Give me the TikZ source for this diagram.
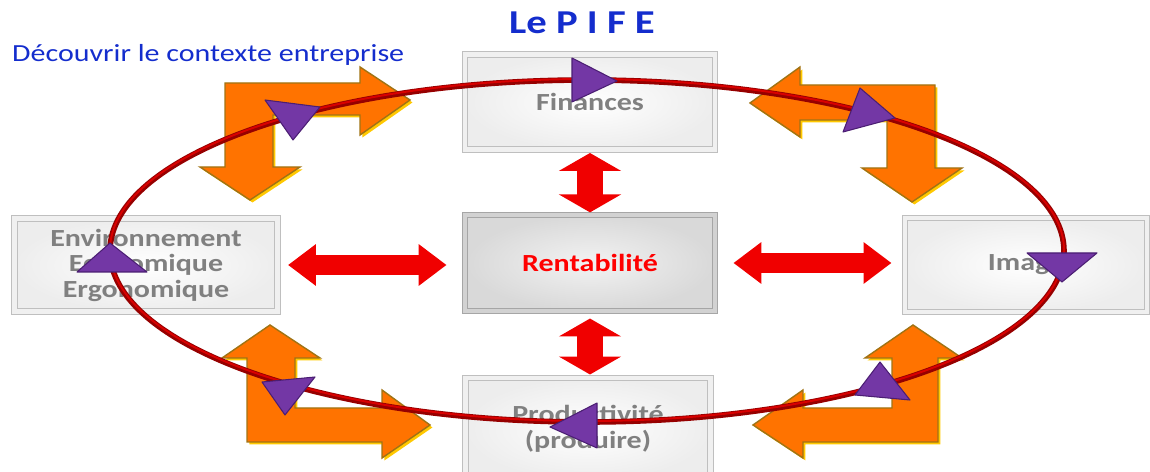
\documentclass[tikz,border=0pt]{standalone}
\usepackage{fontspec}
\setmainfont[FakeStretch=1.22]{Carlito}
\usetikzlibrary{arrows.meta}

\definecolor{bleupife}{RGB}{20,45,205}
\definecolor{textegris}{RGB}{128,128,128}
\definecolor{rougevif}{RGB}{240,0,0}
\definecolor{rougefonce}{RGB}{150,0,0}
\definecolor{orangevif}{RGB}{255,115,0}
\definecolor{orangebord}{RGB}{160,115,20}
\definecolor{orangejaune}{RGB}{255,200,0}
\definecolor{violetpife}{RGB}{115,55,165}
\definecolor{violetfonce}{RGB}{75,30,115}

\begin{document}
\begin{tikzpicture}[x=0.02cm, y=-0.02cm,
bloc/.style = {shape=rectangle, draw=gray!50, line width=0.6pt,
	double=gray!12, double distance=2.5pt,
	inner color=white, outer color=gray!14, align=center,
	font=\fontsize{14}{14.5}\selectfont\bfseries, text=textegris},
liaison/.style = {draw=rougevif, line width=11.3pt,
	{Triangle[length=15.9pt,width=22.7pt]}-{Triangle[length=15.9pt,width=22.7pt]}},
liaisonv/.style = {draw=rougevif, line width=15pt,
	{Triangle[length=10.2pt,width=35pt]}-{Triangle[length=10.2pt,width=35pt]}},
coude/.style = {fill=orangevif, draw=orangebord, line width=0.8pt, line join=miter,
	preaction={fill=orangejaune, transform canvas={shift={(1.4pt,-1.4pt)}}}},
pointe/.style = {fill=violetpife, draw=violetfonce, line width=0.6pt, line join=round}]

\useasboundingbox (0,0) rectangle (1150,472);

\node[text=bleupife, font=\fontsize{19}{20}\selectfont\bfseries] (titre) at (582,23) {Le P I F E};
\node[anchor=west, text=bleupife, font=\fontsize{14}{15}\selectfont] (sous) at (6,55) {Découvrir le contexte entreprise};

\node[bloc, minimum width=5cm, minimum height=1.9cm] (fin) at (590,102) {Finances};
\node[bloc, minimum width=5cm, minimum height=1.92cm, inner color=gray!10, outer color=gray!30,
	draw=gray!70, double=gray!35, text=red] (rent) at (590,263) {Rentabilité};
\node[bloc, minimum width=5.26cm, minimum height=1.86cm] (env) at (146,265) {Environnement\\Economique\\Ergonomique};
\node[bloc, minimum width=4.84cm, minimum height=1.88cm] (img) at (1026,265) {Image};
\node[bloc, minimum width=4.9cm, minimum height=2.04cm] (prod) at (588,429) {Productivité\\(produire)};

\path[coude] (225,83) -- (360,83) -- (360,67) -- (410,100) -- (360,135) -- (360,115) -- (273,115)
	-- (273,167) -- (300,167) -- (250,200) -- (200,167) -- (225,167) -- cycle;
\path[coude] (935,85) -- (800,85) -- (800,67) -- (750,103) -- (800,137) -- (800,120) -- (887,120)
	-- (887,168) -- (862,168) -- (912,202) -- (962,168) -- (935,168) -- cycle;
\path[coude] (247,442) -- (247,358) -- (222,358) -- (270,325) -- (320,358) -- (295,358) -- (295,408)
	-- (382,408) -- (382,390) -- (430,425) -- (382,458) -- (382,442) -- cycle;
\path[coude] (938,442) -- (938,358) -- (962,358) -- (913,325) -- (865,358) -- (892,358) -- (892,408)
	-- (803,408) -- (803,390) -- (753,425) -- (803,458) -- (803,442) -- cycle;

\draw[liaison, shorten <=5.7pt, shorten >=10.2pt] (env.east) -- (env.east -| rent.west);
\draw[liaison, shorten <=10.2pt, shorten >=7.4pt] (rent.east) -- (rent.east -| img.west);
\draw[liaisonv, shorten <=1.7pt, shorten >=1.2pt] (fin.south) -- (rent.north);
\draw[liaisonv, shorten <=4pt, shorten >=1.7pt] (rent.south) -- (rent.south |- prod.north);

\draw[rougefonce, line width=3.2pt] (587,251) ellipse [x radius=477, y radius=171];
\draw[red!85!black, line width=1.1pt] (587,250) ellipse [x radius=477, y radius=171];

\filldraw[pointe] (572,58) -- (617,81) -- (572,102) -- cycle;
\filldraw[pointe] (265,100) -- (320,107) -- (293,140) -- cycle;
\filldraw[pointe] (860,88) -- (843,132) -- (895,118) -- cycle;
\filldraw[pointe] (110,243) -- (77,272) -- (147,272) -- cycle;
\filldraw[pointe] (1027,253) -- (1097,253) -- (1062,282) -- cycle;
\filldraw[pointe] (597,403) -- (550,427) -- (597,448) -- cycle;
\filldraw[pointe] (262,382) -- (315,377) -- (285,415) -- cycle;
\filldraw[pointe] (880,362) -- (855,395) -- (910,400) -- cycle;
\end{tikzpicture}
\end{document}
